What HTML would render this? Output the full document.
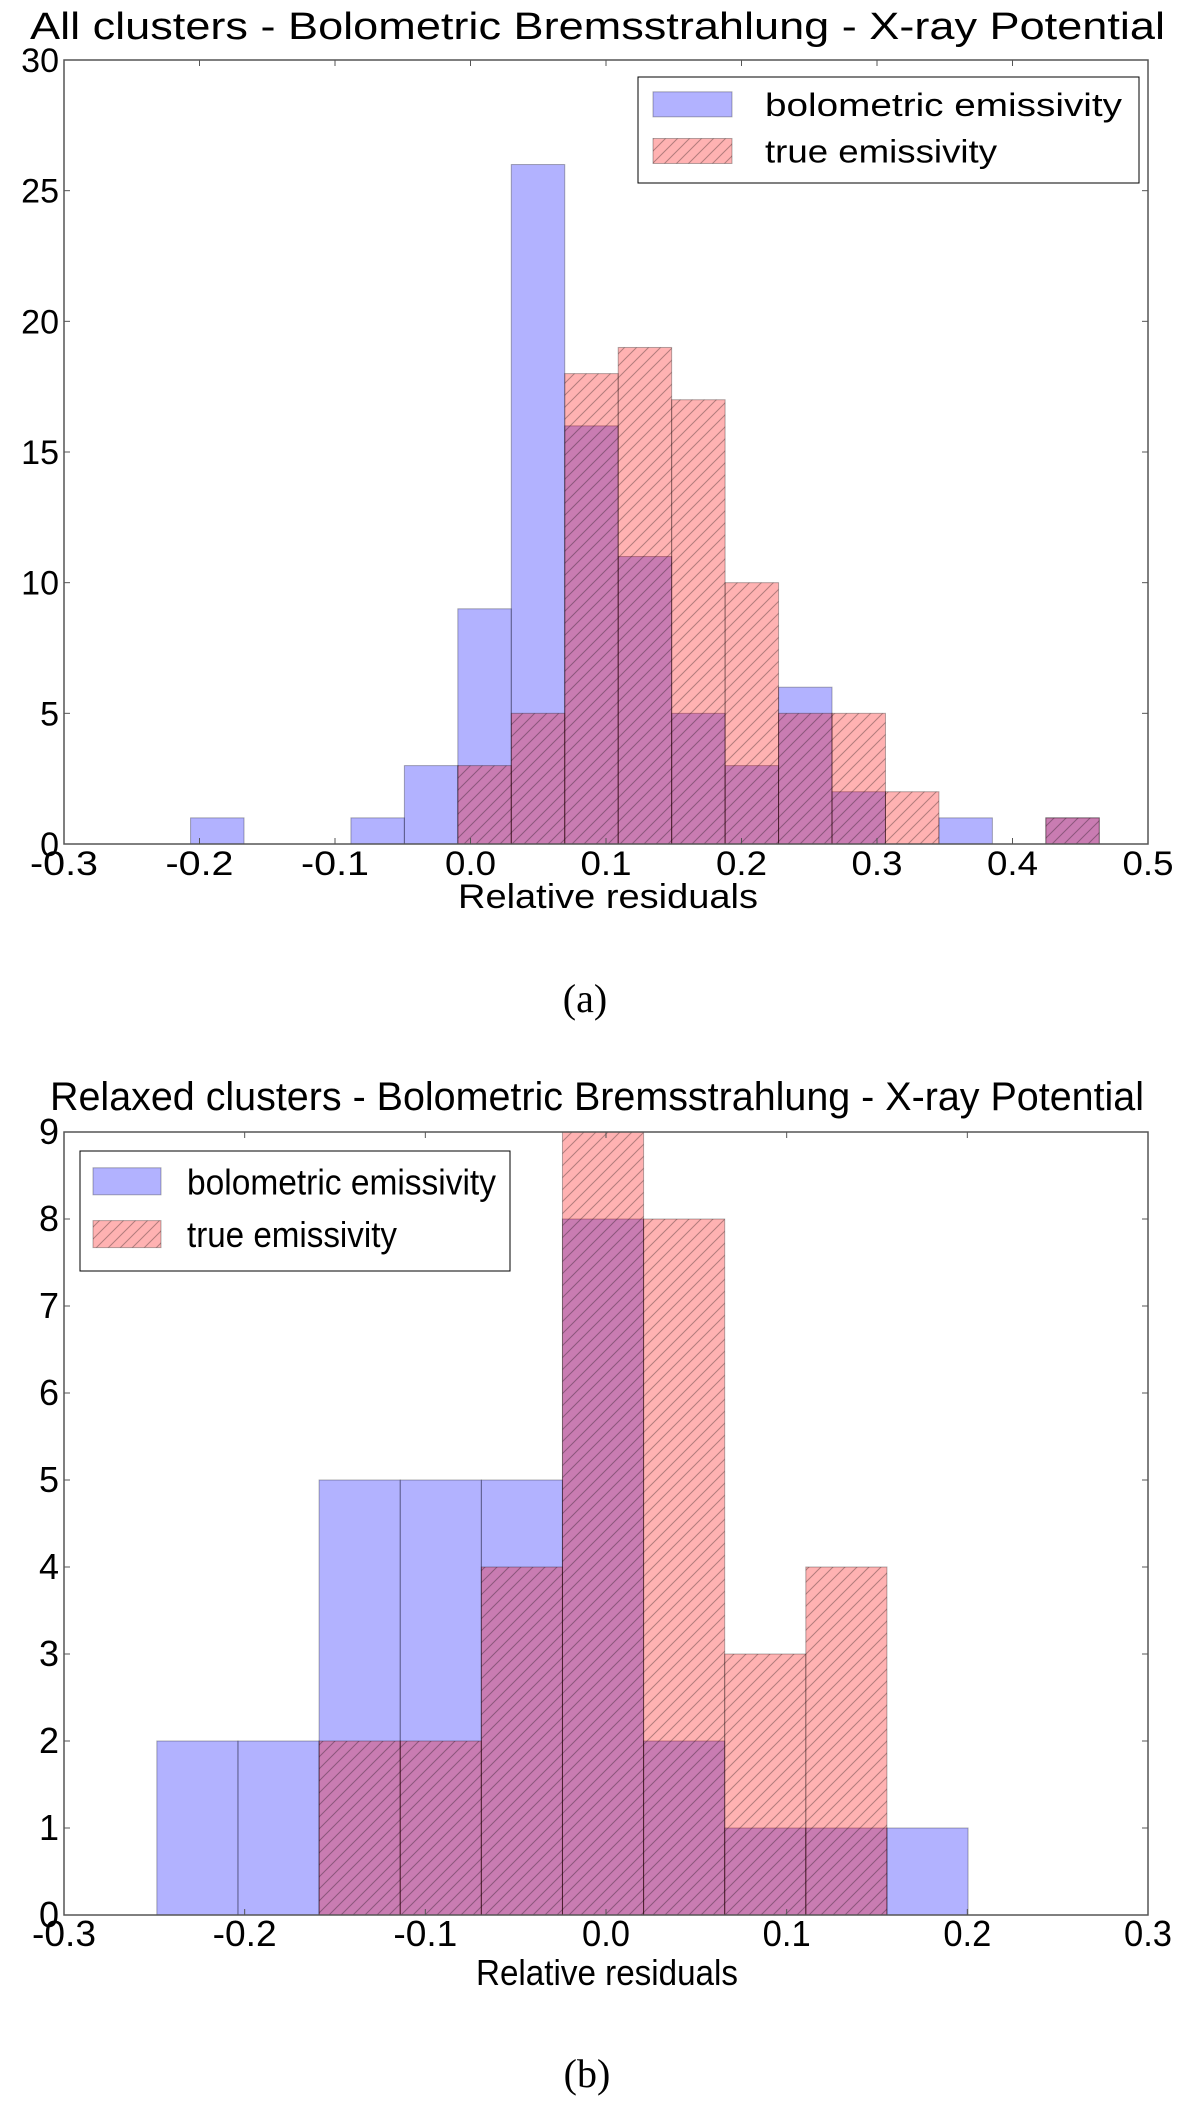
<!DOCTYPE html>
<html><head><meta charset="utf-8"><style>
html,body{margin:0;padding:0;background:#fff;}
svg{display:block;font-family:"Liberation Sans",sans-serif;}
</style></head><body>
<svg id="fig" width="1200" height="2105" viewBox="0 0 1200 2105" xmlns="http://www.w3.org/2000/svg">
<defs>
<pattern id="hatch" patternUnits="userSpaceOnUse" width="12" height="12">
<path d="M-3,15 L15,-3 M-3,3 L3,-3 M9,15 L15,9" stroke="rgba(0,0,0,0.3)" stroke-width="1"/>
</pattern>
</defs>
<g id="chartA"></g>
<g id="chartB"></g>
<text x="585" y="1012" text-anchor="middle" font-family="Liberation Serif,serif" font-size="40">(a)</text>
<text x="587" y="2087" text-anchor="middle" font-family="Liberation Serif,serif" font-size="40">(b)</text>
</svg>
<script>
// Chart A data
const binStartA = -0.2066;
const binWidthA = 0.03945;
const blueA = [1,0,0,1,3,9,26,16,11,5,3,6,2,0,1,0,1];
const redA  = [0,0,0,0,0,3,5,18,19,17,10,5,5,2,0,0,1];
const xTicksA = ["-0.3","-0.2","-0.1","0.0","0.1","0.2","0.3","0.4","0.5"];
const yTicksA = [0,5,10,15,20,25,30];
// Chart B data
const binStartB = -0.2486;
const binWidthB = 0.0449;
const blueB = [2,2,5,5,5,8,2,1,1,1];
const redB  = [0,0,2,2,4,9,8,3,4,0];
const xTicksB = ["-0.3","-0.2","-0.1","0.0","0.1","0.2","0.3"];
const yTicksB = [0,1,2,3,4,5,6,7,8,9];

const NS = "http://www.w3.org/2000/svg";
function mk(parent, tag, attrs, txt){
  const e = document.createElementNS(NS, tag);
  for (const k in attrs) e.setAttribute(k, attrs[k]);
  if (txt !== undefined) e.textContent = txt;
  parent.appendChild(e);
  return e;
}

function drawChart(g, cfg){
  const X = v => cfg.x0 + (v - cfg.xmin) / (cfg.xmax - cfg.xmin) * (cfg.x1 - cfg.x0);
  const Y = v => cfg.y0 - (v - cfg.ymin) / (cfg.ymax - cfg.ymin) * (cfg.y0 - cfg.y1);
  const t = mk(g, "text", {x: cfg.titleX, y: cfg.titleY, "font-size": cfg.titleSize, textLength: cfg.titleLen, lengthAdjust: "spacingAndGlyphs"}, cfg.title);
  
  
  cfg.blue.forEach((v, i) => {
    if (!v) return;
    const a = cfg.binStart + i * cfg.binWidth, b = a + cfg.binWidth;
    const r = mk(g, "rect", {x: X(a), y: Y(v), width: X(b) - X(a), height: Y(0) - Y(v), fill: "rgba(0,0,255,0.3)", stroke: "rgba(0,0,0,0.3)", "stroke-width": 1});
    
    
  });
  cfg.red.forEach((v, i) => {
    if (!v) return;
    const a = cfg.binStart + i * cfg.binWidth, b = a + cfg.binWidth;
    const r = mk(g, "rect", {x: X(a), y: Y(v), width: X(b) - X(a), height: Y(0) - Y(v), fill: "rgba(255,0,0,0.3)", stroke: "rgba(0,0,0,0.3)", "stroke-width": 1});
    
    
    const h = mk(g, "rect", {x: X(a), y: Y(v), width: X(b) - X(a), height: Y(0) - Y(v), fill: "url(#hatch)"});
    
    
  });
  const f = mk(g, "rect", {x: cfg.x0, y: cfg.y1, width: cfg.x1 - cfg.x0, height: cfg.y0 - cfg.y1, fill: "none", stroke: "#555", "stroke-width": 1.5});
  
  
  cfg.xTicks.forEach(s => {
    const v = parseFloat(s), x = X(v);
    mk(g, "line", {x1: x, x2: x, y1: cfg.y0, y2: cfg.y0 - 6, stroke: "#555"});
    mk(g, "line", {x1: x, x2: x, y1: cfg.y1, y2: cfg.y1 + 6, stroke: "#555"});
    const w = cfg.xLabelW * (s.length) / 4;
    const l = mk(g, "text", {x: x, y: cfg.y0 + 31, "font-size": cfg.tickFs, "text-anchor": "middle", textLength: w, lengthAdjust: "spacingAndGlyphs"}, s);
    
    
  });
  cfg.yTicks.forEach(v => {
    const y = Y(v);
    mk(g, "line", {x1: cfg.x0, x2: cfg.x0 + 6, y1: y, y2: y, stroke: "#555"});
    mk(g, "line", {x1: cfg.x1, x2: cfg.x1 - 6, y1: y, y2: y, stroke: "#555"});
    const l = mk(g, "text", {x: cfg.x0 - 5, y: y + 12, "font-size": cfg.tickFs, "text-anchor": "end"}, String(v));
    
    
  });
  const xl = mk(g, "text", {x: cfg.xlabX, y: cfg.xlabY, "font-size": cfg.xlabFs, "text-anchor": "middle", textLength: cfg.xlabLen, lengthAdjust: "spacingAndGlyphs"}, "Relative residuals");
  
  
  const L = cfg.legend;
  const lg = mk(g, "g", {});
  
  
  mk(lg, "rect", {x: L.x, y: L.y, width: L.w, height: L.h, fill: "#fff", stroke: "#000", "stroke-width": 1});
  mk(lg, "rect", {x: L.x + L.px, y: L.y + L.h * 0.14, width: L.pw, height: L.ph, fill: "rgba(0,0,255,0.3)", stroke: "rgba(0,0,0,0.3)"});
  mk(lg, "rect", {x: L.x + L.px, y: L.y + L.h * 0.58, width: L.pw, height: L.ph, fill: "rgba(255,0,0,0.3)", stroke: "rgba(0,0,0,0.3)"});
  mk(lg, "rect", {x: L.x + L.px, y: L.y + L.h * 0.58, width: L.pw, height: L.ph, fill: "url(#hatch)"});
  const e1 = mk(lg, "text", {x: L.x + L.tx, y: L.y + L.h * 0.14 + L.ph * 0.5 + L.fs * 0.36, "font-size": L.fs, textLength: L.len1, lengthAdjust: "spacingAndGlyphs"}, "bolometric emissivity");
  
  
  const e2 = mk(lg, "text", {x: L.x + L.tx, y: L.y + L.h * 0.58 + L.ph * 0.5 + L.fs * 0.36, "font-size": L.fs, textLength: L.len2, lengthAdjust: "spacingAndGlyphs"}, "true emissivity");
  
  
}

drawChart(document.getElementById("chartA"), {
  x0: 64, x1: 1148, y0: 844, y1: 60, xmin: -0.3, xmax: 0.5, ymin: 0, ymax: 30,
  binStart: binStartA, binWidth: binWidthA, blue: blueA, red: redA,
  xTicks: xTicksA, yTicks: yTicksA, xLabelW: 68, tickFs: 34,
  title: "All clusters - Bolometric Bremsstrahlung - X-ray Potential", titleX: 30, titleY: 39, titleSize: 38, titleLen: 1135,
  xlabX: 608, xlabY: 908, xlabLen: 300, xlabFs: 34,
  legend: {x: 638, y: 77, w: 501, h: 106, px: 15, pw: 79, ph: 25, tx: 127, fs: 32, len1: 357, len2: 232}
});
drawChart(document.getElementById("chartB"), {
  x0: 64, x1: 1148, y0: 1915, y1: 1132, xmin: -0.3, xmax: 0.3, ymin: 0, ymax: 9,
  binStart: binStartB, binWidth: binWidthB, blue: blueB, red: redB,
  xTicks: xTicksB, yTicks: yTicksB, xLabelW: 64, tickFs: 36,
  title: "Relaxed clusters - Bolometric Bremsstrahlung - X-ray Potential", titleX: 50, titleY: 1110, titleSize: 40, titleLen: 1094,
  xlabX: 607, xlabY: 1985, xlabLen: 262, xlabFs: 36,
  legend: {x: 80, y: 1151, w: 430, h: 120, px: 13, pw: 68, ph: 27, tx: 107, fs: 36, len1: 309, len2: 210}
});
</script>
</body></html>
